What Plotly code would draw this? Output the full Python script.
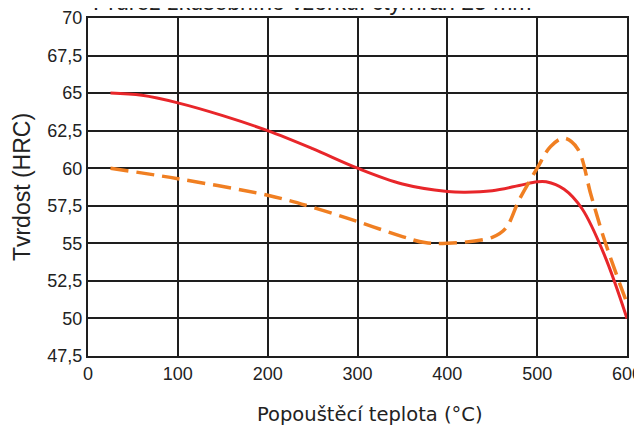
import plotly.graph_objects as go

# Data
temp_red = [25, 60, 100, 150, 200, 250, 300, 350, 400, 420, 450, 480, 500, 510, 530, 550, 575, 600]
hrc_red = [65.0, 64.85, 64.35, 63.5, 62.5, 61.3, 60.0, 58.95, 58.45, 58.4, 58.5, 58.85, 59.1, 59.1, 58.6, 57.3, 54.2, 50.0]

temp_orange = [25, 100, 200, 250, 300, 350, 375, 400, 450, 465, 480, 500, 515, 530, 545, 560, 575, 600]
hrc_orange = [60.0, 59.3, 58.2, 57.4, 56.45, 55.45, 55.05, 55.0, 55.4, 56.0, 57.9, 60.0, 61.45, 62.0, 61.3, 58.2, 55.2, 51.0]

x_ticks = [0, 100, 200, 300, 400, 500, 600]
y_ticks = [47.5, 50, 52.5, 55, 57.5, 60, 62.5, 65, 67.5, 70]
y_ticktext = ["47,5", "50", "52,5", "55", "57,5", "60", "62,5", "65", "67,5", "70"]

title_text = "Průřez zkušebního vzorku: čtyřhran 25 mm"
x_title = "Popouštěcí teplota (°C)"
y_title = "Tvrdost (HRC)"

font_family = "Liberation Sans, Arial, sans-serif"

fig = go.Figure()
fig.add_trace(go.Scatter(
    x=temp_red, y=hrc_red, mode="lines",
    line=dict(color="#e8262a", width=3, shape="spline", smoothing=1.0),
    showlegend=False, cliponaxis=False,
))
fig.add_trace(go.Scatter(
    x=temp_orange, y=hrc_orange, mode="lines",
    line=dict(color="#f07f22", width=3.5, shape="spline", smoothing=1.0, dash="18px,8px"),
    showlegend=False, cliponaxis=False,
))

axis_common = dict(
    showgrid=True, gridcolor="#1e1e1e", gridwidth=2,
    showline=True, linecolor="#1e1e1e", linewidth=2, mirror=True,
    zeroline=False, ticks="", automargin=False,
    ticklabeloverflow="allow",
    tickfont=dict(family=font_family, size=18, color="#222"),
)

fig.update_xaxes(
    range=[0, 600], tickvals=x_ticks, ticktext=[str(v) for v in x_ticks],
    **axis_common,
)
fig.update_yaxes(
    range=[47.5, 70], tickvals=y_ticks, ticktext=y_ticktext,
    title=dict(text=y_title, font=dict(family=font_family, size=23, color="#222"), standoff=10),
    **axis_common,
)

fig.add_annotation(
    text=title_text, xref="paper", yref="paper", x=0.415, y=1.047,
    xanchor="center", yanchor="middle", showarrow=False,
    font=dict(family=font_family, size=23, color="#222"),
)
fig.add_annotation(
    text=x_title, xref="paper", yref="paper", x=0.523, y=-0.172,
    xanchor="center", yanchor="middle", showarrow=False,
    font=dict(family="DejaVu Sans, sans-serif", size=19.5, color="#222"),
)

fig.update_layout(
    width=642, height=418,
    margin=dict(l=80, r=23, t=10, b=70),
    paper_bgcolor="white", plot_bgcolor="white",
)

fig.write_html("out.html")
